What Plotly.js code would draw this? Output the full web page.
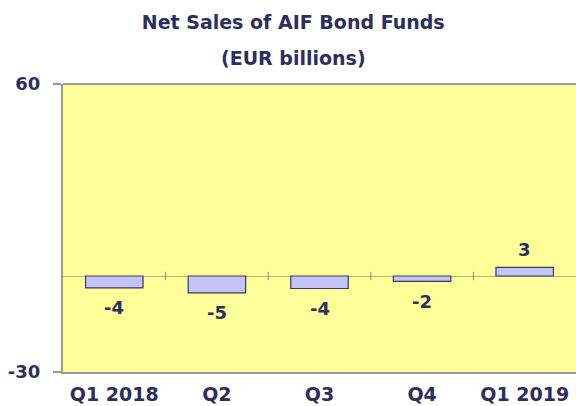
<!DOCTYPE html>
<html>
<head>
<meta charset="utf-8">
<script src="https://cdn.plot.ly/plotly-3.0.1.min.js"></script>
<style>html,body{margin:0;padding:0;background:#fff;}#chart{width:576px;height:406px;}</style>
</head>
<body>
<div id="chart"></div>
<script>
const categories = ["Q1 2018", "Q2", "Q3", "Q4", "Q1 2019"];
const netSales = [-3.7, -5.3, -3.9, -1.7, 2.7];
const yTickVals = [-30, 60];
const yTickText = ["-30", "60"];
const titleLine1 = "Net Sales of AIF Bond Funds";
const titleLine2 = "(EUR billions)";

const navy = "#2e2e5c";
const fontFam = "DejaVu Sans, Verdana, sans-serif";
const axisGray = "#9a9a9a";

const trace = {
  type: "bar",
  x: categories,
  y: netSales,
  width: 0.56,
  marker: { color: "#c4c4fa", line: { color: "#3a3a5c", width: 1.2 } },
  hoverinfo: "skip"
};

// value labels, placed from the data through the axes
const annotations = netSales.map((v, i) => ({
  x: categories[i], y: v, xref: "x", yref: "y",
  text: "<b>" + Math.round(v) + "</b>",
  showarrow: false, xanchor: "center", yanchor: "middle",
  yshift: v < 0 ? -20 : 18,
  font: { family: fontFam, size: 18, color: navy }
}));
annotations.push({
  text: "<b>" + titleLine2 + "</b>", xref: "paper", yref: "paper",
  x: 0.449, y: 1.09, xanchor: "center", yanchor: "middle", showarrow: false,
  font: { family: fontFam, size: 19, color: navy }
});

// small category-separator ticks across the zero line
const shapes = [];
for (let i = 0; i < categories.length - 1; i++) {
  shapes.push({ type: "line", xref: "x", yref: "y", x0: i + 0.5, x1: i + 0.5, y0: -1.3, y1: 1.3,
    line: { color: "#8a8a6a", width: 1 } });
}
shapes.push({ type: "line", xref: "paper", yref: "paper", x0: 0, x1: 1, y0: 1, y1: 1,
  line: { color: axisGray, width: 2 } });

const layout = {
  width: 576, height: 406,
  margin: { l: 63, r: 0, t: 84, b: 34 },
  paper_bgcolor: "#ffffff",
  plot_bgcolor: "#ffff99",
  showlegend: false,
  title: {
    text: "<b>" + titleLine1 + "</b>",
    xref: "container", yref: "container",
    x: 0.509, xanchor: "center", y: 1 - 22 / 406, yanchor: "middle",
    font: { family: fontFam, size: 19, color: navy }
  },
  xaxis: {
    type: "category",
    showgrid: false, zeroline: false,
    showline: true, linecolor: axisGray, linewidth: 2,
    ticks: "", ticklabelstandoff: 4,
    tickfont: { family: fontFam, size: 19, color: navy, weight: "bold" },
    range: [-0.5, 4.5], fixedrange: true
  },
  yaxis: {
    range: [-30, 60],
    tickvals: yTickVals, ticktext: yTickText,
    tickfont: { family: fontFam, size: 18, color: navy, weight: "bold" },
    ticks: "outside", ticklen: 8, tickcolor: axisGray, tickwidth: 2,
    ticklabelstandoff: 9,
    showgrid: false,
    zeroline: true, zerolinecolor: "#b4b47e", zerolinewidth: 1,
    showline: true, linecolor: axisGray, linewidth: 2,
    fixedrange: true
  },
  annotations: annotations,
  shapes: shapes
};

Plotly.newPlot("chart", [trace], layout, { displayModeBar: false, staticPlot: true });
</script>
</body>
</html>
